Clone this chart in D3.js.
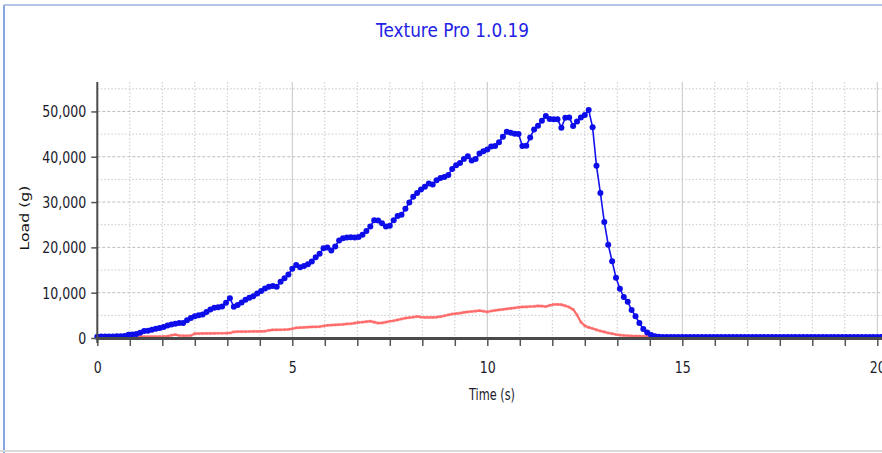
<!DOCTYPE html>
<html><head><meta charset="utf-8">
<script src="https://cdn.jsdelivr.net/npm/d3@7"></script>
<style>body{margin:0;background:#fff}svg{display:block}</style>
</head><body><svg id="c" width="882" height="453"></svg>
<script>
// ---------------- data ----------------
const chartTitle = "Texture Pro 1.0.19";
const xAxisTitle = "Time (s)";
const yAxisTitle = "Load (g)";
const xTickValues = [0, 5, 10, 15, 20];
const yTickValues = [0, 10000, 20000, 30000, 40000, 50000];
const sampleInterval = 0.1; // seconds between samples
// blue series (load, g) sampled every 0.1 s from 0.0 s
const loadBlue = [
  300,320,330,340,350,360,380,450,700,800,
  900,1150,1550,1600,1800,2050,2200,2450,2750,3000,
  3150,3300,3300,3900,4400,4800,5000,5200,5750,6300,
  6650,6770,6950,7800,8800,6900,7300,7850,8450,8900,
  9200,9800,10350,10900,11300,11500,11300,12400,13200,14000,
  15300,16100,15600,15900,16300,16900,17800,18600,19800,20000,
  19300,20200,21500,22000,22200,22250,22170,22300,22800,23600,
  24600,26000,25950,25300,24600,24800,26000,26900,27200,28500,
  29900,31200,32000,32800,33400,34100,33900,34800,35300,35550,
  36000,37300,38100,38600,39500,40100,39200,39500,40700,41200,
  41600,42250,42400,43200,44400,45500,45300,45100,45000,42400,
  42440,44270,46000,46840,47940,49000,48310,48300,48300,46400,
  48600,48680,46800,47800,48680,49190,50300,46500,38000,32000,
  25600,20600,16960,13300,10860,9030,8000,6200,4800,3300,
  2000,1200,650,380,280,230,220,220,220,220,
  220,220,220,220,220,220,220,220,220,220,
  220,220,220,220,220,220,220,220,220,220,
  220,220,220,220,220,220,220,220,220,220,
  220,220,220,220,220,220,220,220,220,220,
  220,220,220,220,220,220,220,220,220,220,
  220,220
];
// red series (load, g) sampled every 0.1 s from 0.0 s
const loadRed = [
  100,100,120,130,150,160,180,200,220,240,
  250,270,300,300,310,320,330,340,400,600,
  750,550,500,500,550,950,980,1000,1000,1020,
  1030,1050,1050,1060,1100,1350,1400,1400,1420,1430,
  1450,1450,1470,1500,1700,1800,1800,1820,1850,1900,
  2050,2250,2300,2350,2400,2450,2450,2500,2650,2800,
  2850,2900,2950,3000,3100,3150,3300,3450,3500,3600,
  3700,3500,3300,3350,3500,3700,3800,4000,4200,4400,
  4500,4600,4750,4600,4550,4550,4550,4600,4700,4900,
  5100,5300,5400,5500,5650,5750,5850,5950,6050,5900,
  5750,5950,6100,6200,6300,6420,6550,6650,6780,6850,
  6870,6950,7000,7090,7050,6950,7200,7390,7400,7350,
  7100,6800,6300,5100,3500,2700,2350,2100,1800,1550,
  1350,1100,950,780,650,560,500,450,420,400,
  380,360,300
];

// ---------------- chart ----------------
const svg = d3.select("#c");
const W = 882, H = 453;
const x = d3.scaleLinear().domain([0, 20]).range([97.3, 877.3]);
const y = d3.scaleLinear().domain([0, 56500]).range([338, 82]);
const plotRight = W, plotTop = y.range()[1], plotBottom = y.range()[0];

const xMinor = d3.range(0, 20.2, 5 / 6);
const yMinor = d3.range(5000, 56500, 10000);
const isMajorX = v => Math.abs(v / 5 - Math.round(v / 5)) < 1e-6;

// frame
svg.append("line").attr("x1", 4).attr("x2", 4).attr("y1", 5).attr("y2", H)
  .attr("stroke", "#5f8ad6").attr("stroke-width", 1.5);
svg.append("line").attr("x1", 4).attr("x2", W).attr("y1", 5).attr("y2", 5)
  .attr("stroke", "#9db2dc").attr("stroke-width", 1.5);
svg.append("line").attr("x1", 0).attr("x2", W).attr("y1", 451).attr("y2", 451)
  .attr("stroke", "#dadada").attr("stroke-width", 2);

// title
svg.append("text").text(chartTitle)
  .attr("x", 452.5).attr("y", 37).attr("text-anchor", "middle")
  .attr("font-family", "DejaVu Sans, sans-serif").attr("font-size", 19)
  .attr("fill", "#2323e6")
  .attr("textLength", 153).attr("lengthAdjust", "spacingAndGlyphs");

// grid
const grid = svg.append("g");
grid.selectAll(".vg").data(xMinor.filter(v => v > 0)).join("line")
  .attr("x1", d => x(d)).attr("x2", d => x(d))
  .attr("y1", plotTop).attr("y2", plotBottom)
  .attr("stroke", d => isMajorX(d) ? "#c6c6c6" : "#c8c8c8")
  .attr("stroke-width", 1)
  .attr("stroke-dasharray", d => isMajorX(d) ? null : "1.5,2");
grid.selectAll(".hm").data(yMinor).join("line")
  .attr("x1", x(0)).attr("x2", plotRight)
  .attr("y1", d => y(d)).attr("y2", d => y(d))
  .attr("stroke", "#c8c8c8").attr("stroke-dasharray", "1.5,2");
grid.selectAll(".hM").data(yTickValues.filter(v => v > 0)).join("line")
  .attr("x1", x(0)).attr("x2", plotRight)
  .attr("y1", d => y(d)).attr("y2", d => y(d))
  .attr("stroke", "#bdbdbd").attr("stroke-dasharray", "3,2");

// series
const tOf = i => i * sampleInterval;
const redLine = d3.line().x((d, i) => x(tOf(i))).y(d => y(d));
svg.append("path").datum(loadRed).attr("d", redLine)
  .attr("fill", "none").attr("stroke", "#ff5555").attr("stroke-width", 2.2)
  .attr("stroke-opacity", 0.85);
svg.append("g").selectAll("rect").data(loadRed).join("rect")
  .attr("x", (d, i) => x(tOf(i)) - 1.5).attr("y", d => y(d) - 1.5)
  .attr("width", 3).attr("height", 3).attr("fill", "#ff6a6a").attr("opacity", 0.55);

const blueLine = d3.line().x((d, i) => x(tOf(i))).y(d => y(d));
svg.append("path").datum(loadBlue).attr("d", blueLine)
  .attr("fill", "none").attr("stroke", "#1212ee").attr("stroke-width", 1.6);
svg.append("g").selectAll("circle").data(loadBlue).join("circle")
  .attr("cx", (d, i) => x(tOf(i))).attr("cy", d => y(d)).attr("r", 3)
  .attr("fill", "#0d0dea");

// axes
const fontFam = "DejaVu Sans, sans-serif";
const xAxis = svg.append("g").attr("transform", `translate(0,${plotBottom})`)
  .call(d3.axisBottom(x).tickValues(xMinor).tickSizeOuter(0).tickSize(8)
    .tickFormat(d => isMajorX(d) ? d3.format("d")(Math.round(d)) : ""));
xAxis.select(".domain").remove();
xAxis.selectAll(".tick line").attr("stroke", "#555").attr("stroke-width", 1.5);
xAxis.selectAll(".tick text").attr("y", 35).attr("dy", 0)
  .attr("font-family", fontFam).attr("font-size", 15).attr("fill", "#1b1b2b");
svg.append("line").attr("x1", x(0) - 1).attr("x2", W)
  .attr("y1", plotBottom + 0.5).attr("y2", plotBottom + 0.5)
  .attr("stroke", "#4a4a4a").attr("stroke-width", 3);

const yAxis = svg.append("g").attr("transform", `translate(${x(0)},0)`)
  .call(d3.axisLeft(y).tickValues(yTickValues).tickSizeOuter(0).tickSize(6)
    .tickPadding(5).tickFormat(d3.format(",")));
yAxis.select(".domain").remove();
yAxis.selectAll(".tick line").attr("stroke", "#555").attr("stroke-width", 1.5);
yAxis.selectAll(".tick text").attr("x", -11).attr("dy", "0.36em")
  .attr("font-family", fontFam).attr("font-size", 15).attr("fill", "#1b1b2b");
svg.append("line").attr("x1", x(0)).attr("x2", x(0))
  .attr("y1", plotTop).attr("y2", plotBottom + 5)
  .attr("stroke", "#4a4a4a").attr("stroke-width", 2);

// compress tick labels horizontally
let kRef = null;
yAxis.selectAll(".tick text").each(function (d) {
  if (d === 50000) kRef = 44 / this.getComputedTextLength();
});
svg.selectAll(".tick text").each(function () {
  const w = this.getComputedTextLength();
  if (w > 0) d3.select(this).attr("textLength", w * kRef).attr("lengthAdjust", "spacingAndGlyphs");
});

// axis titles
svg.append("text").text(xAxisTitle)
  .attr("x", 492).attr("y", 400).attr("text-anchor", "middle")
  .attr("font-family", fontFam).attr("font-size", 15).attr("fill", "#1b1b2b")
  .attr("textLength", 46).attr("lengthAdjust", "spacingAndGlyphs");
svg.append("text").text(yAxisTitle)
  .attr("transform", "translate(29,218) rotate(-90)").attr("text-anchor", "middle")
  .attr("font-family", fontFam).attr("font-size", 13).attr("fill", "#111")
  .attr("textLength", 65).attr("lengthAdjust", "spacingAndGlyphs");
</script></body></html>
